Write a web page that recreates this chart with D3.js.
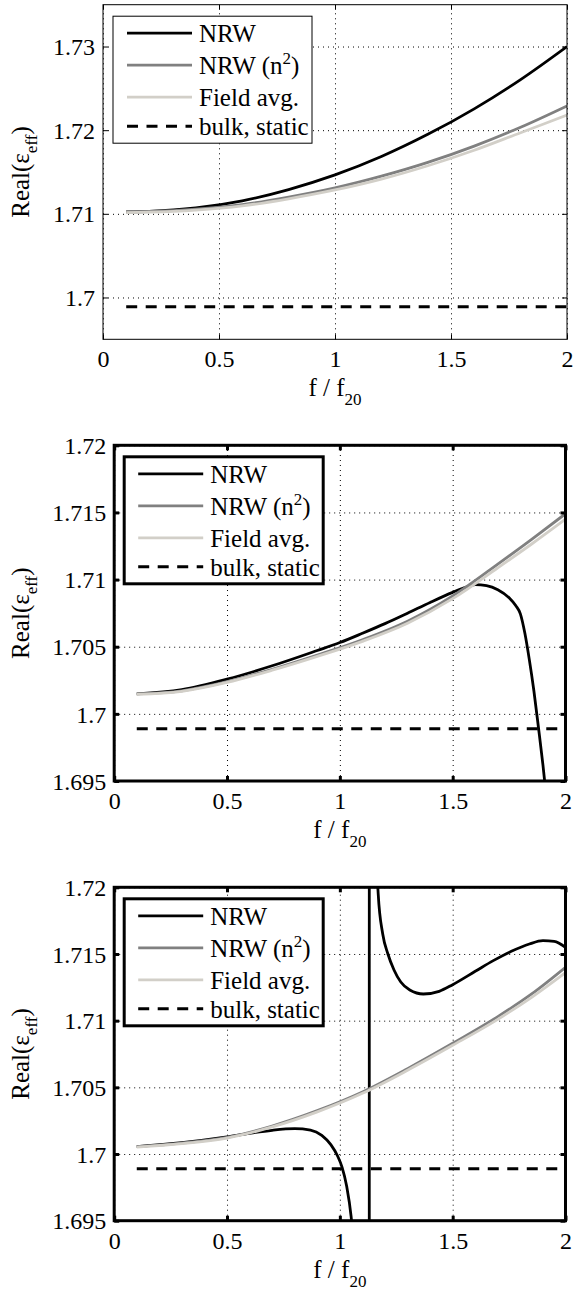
<!DOCTYPE html>
<html>
<head>
<meta charset="utf-8">
<script src="https://cdn.jsdelivr.net/npm/d3@7"></script>
<style>
  body { margin: 0; background: #fff; }
</style>
</head>
<body>
<div id="chart"></div>
<script>
// ---- data ----
const xTicks = [0, 0.5, 1, 1.5, 2];
const xTickLabels = ['0', '0.5', '1', '1.5', '2'];
const yTicksTop = [1.7, 1.71, 1.72, 1.73];
const yTickLabelsTop = ['1.7', '1.71', '1.72', '1.73'];
const yTicksLow = [1.695, 1.7, 1.705, 1.71, 1.715, 1.72];
const yTickLabelsLow = ['1.695', '1.7', '1.705', '1.71', '1.715', '1.72'];
const seriesNames = ['NRW', 'NRW (n2)', 'Field avg.', 'bulk, static'];

const bulkStatic = 1.6989;
const bulkRange = [0.1, 2.0];

// panel 1
const p1F     = [0.1, 0.2, 0.4, 0.6, 0.8, 1.0, 1.2, 1.4, 1.6, 1.8, 2.0];
const p1Nrw   = [1.71024, 1.71030, 1.71070, 1.71155, 1.71290, 1.71465, 1.71685, 1.71950, 1.72255, 1.72605, 1.73000];
const p1NrwN2 = [1.71024, 1.71028, 1.71055, 1.71110, 1.71200, 1.71310, 1.71450, 1.71615, 1.71810, 1.72035, 1.72290];
const p1Field = [1.71015, 1.71020, 1.71045, 1.71095, 1.71180, 1.71285, 1.71415, 1.71575, 1.71760, 1.71970, 1.72180];

// panel 2
const p2NrwF  = [0.1, 0.3, 0.5, 0.7, 0.9, 1.0, 1.1, 1.2, 1.3, 1.4, 1.5, 1.55, 1.6, 1.65, 1.7, 1.75, 1.78, 1.8, 1.82, 1.84, 1.86, 1.88, 1.9, 1.92, 1.95];
const p2Nrw   = [1.70149, 1.70180, 1.70258, 1.70358, 1.70472, 1.70531, 1.70600, 1.70672, 1.70750, 1.70830, 1.70905, 1.70938, 1.70962, 1.70955, 1.70925, 1.70865, 1.70805, 1.70745, 1.70600, 1.70400, 1.70170, 1.69900, 1.69620, 1.69300, 1.68800];
const p2F     = [0.1, 0.3, 0.5, 0.7, 0.9, 1.1, 1.3, 1.5, 1.7, 1.85, 2.0];
const p2NrwN2 = [1.70149, 1.70172, 1.70240, 1.70332, 1.70438, 1.70552, 1.70690, 1.70878, 1.71115, 1.71300, 1.71490];
const p2Field = [1.70146, 1.70168, 1.70234, 1.70325, 1.70428, 1.70540, 1.70675, 1.70858, 1.71088, 1.71265, 1.71450];

// panel 3
const p3NrwF  = [0.1, 0.3, 0.5, 0.6, 0.7, 0.8, 0.87, 0.92, 0.96, 0.99, 1.01, 1.03, 1.05, 1.07, 1.09, 1.11, 1.125, 1.13,
                 1.131, 1.14, 1.15, 1.16, 1.17, 1.19, 1.213, 1.24, 1.27, 1.31, 1.37, 1.44, 1.5, 1.6, 1.68, 1.76, 1.84, 1.9, 1.95, 2.0];
const p3Nrw   = [1.70055, 1.70085, 1.70128, 1.70155, 1.70178, 1.70190, 1.70180, 1.70140, 1.70070, 1.69985, 1.69900, 1.69760, 1.69530, 1.69100, 1.68300, 1.66500, 1.60000, 1.50000,
                 1.95000, 1.76000, 1.73500, 1.72350, 1.71950, 1.71650, 1.71500, 1.71380, 1.71290, 1.71230, 1.71200, 1.71220, 1.71270, 1.71370, 1.71450, 1.71520, 1.71575, 1.71600, 1.71595, 1.71550];
const p3F     = [0.1, 0.3, 0.5, 0.7, 0.9, 1.1, 1.3, 1.5, 1.7, 1.85, 2.0];
const p3NrwN2 = [1.70055, 1.70082, 1.70125, 1.70210, 1.70325, 1.70465, 1.70640, 1.70830, 1.71030, 1.71200, 1.71400];
const p3Field = [1.70052, 1.70078, 1.70120, 1.70203, 1.70316, 1.70455, 1.70628, 1.70815, 1.71010, 1.71175, 1.71360];

// ---- layout ----
const W = 574, H = 1291;
const FONT = "'Liberation Serif', 'Times New Roman', Times, serif";
const colors = ['#000000', '#808080', '#d2cfc8', '#000000'];

const panels = [
  { left: 103, right: 567, top: 4.7, bottom: 339.3, yDomain: [1.695, 1.735], yTicks: yTicksTop, yLabels: yTickLabelsTop, frameW: 1,
    lines: [[p1F, p1Nrw], [p1F, p1NrwN2], [p1F, p1Field]] },
  { left: 114.2, right: 565.5, top: 445.3, bottom: 781, yDomain: [1.695, 1.72], yTicks: yTicksLow, yLabels: yTickLabelsLow, frameW: 3,
    lines: [[p2NrwF, p2Nrw], [p2F, p2NrwN2], [p2F, p2Field]] },
  { left: 114.2, right: 565.5, top: 887.3, bottom: 1220.7, yDomain: [1.695, 1.72], yTicks: yTicksLow, yLabels: yTickLabelsLow, frameW: 3,
    lines: [[p3NrwF, p3Nrw], [p3F, p3NrwN2], [p3F, p3Field]] }
];

const svg = d3.select('#chart').append('svg')
  .attr('width', W).attr('height', H);

panels.forEach((p, pi) => {
  const x = d3.scaleLinear().domain([0, 2]).range([p.left, p.right]);
  const y = d3.scaleLinear().domain(p.yDomain).range([p.bottom, p.top]);
  const w = p.right - p.left, h = p.bottom - p.top;
  const g = svg.append('g');

  const clipId = 'clip' + pi;
  svg.append('clipPath').attr('id', clipId)
    .append('rect').attr('x', p.left).attr('y', p.top).attr('width', w).attr('height', h);

  // dotted grid
  g.append('g').attr('transform', `translate(0,${p.bottom})`)
    .call(d3.axisBottom(x).tickValues(xTicks).tickSize(-h).tickFormat(''))
    .call(a => a.select('.domain').remove())
    .selectAll('line').attr('stroke', '#000').attr('stroke-width', 1).attr('stroke-dasharray', '1,4');
  g.append('g').attr('transform', `translate(${p.left},0)`)
    .call(d3.axisLeft(y).tickValues(p.yTicks).tickSize(-w).tickFormat(''))
    .call(a => a.select('.domain').remove())
    .selectAll('line').attr('stroke', '#000').attr('stroke-width', 1).attr('stroke-dasharray', '1,4');

  // curves
  const line = d3.line().x(d => x(d[0])).y(d => y(d[1])).curve(d3.curveMonotoneX);
  const curves = g.append('g').attr('clip-path', `url(#${clipId})`);
  p.lines.forEach((s, i) => {
    const pts = s[0].map((f, k) => [f, s[1][k]]);
    curves.append('path').datum(pts)
      .attr('d', line).attr('fill', 'none')
      .attr('stroke', colors[i]).attr('stroke-width', 2.8)
      .attr('stroke-linejoin', 'round');
  });
  curves.append('path').datum(bulkRange.map(f => [f, bulkStatic]))
    .attr('d', d3.line().x(d => x(d[0])).y(d => y(d[1])))
    .attr('stroke', colors[3]).attr('stroke-width', 3).attr('stroke-dasharray', '11,8.5');

  // axes with inward ticks
  const bottomAx = g.append('g').attr('transform', `translate(0,${p.bottom})`)
    .call(d3.axisBottom(x).tickValues(xTicks).tickFormat((d, i) => xTickLabels[i]).tickSizeInner(-5).tickSizeOuter(0));
  bottomAx.selectAll('text').attr('y', 28).attr('dy', null).style('font-size', '24px');
  const leftAx = g.append('g').attr('transform', `translate(${p.left},0)`)
    .call(d3.axisLeft(y).tickValues(p.yTicks).tickFormat((d, i) => p.yLabels[i]).tickSizeInner(-5).tickSizeOuter(0));
  leftAx.selectAll('text').attr('x', -8).attr('dy', '0.34em').style('font-size', '24px');
  g.append('g').attr('transform', `translate(0,${p.top})`)
    .call(d3.axisTop(x).tickValues(xTicks).tickFormat('').tickSizeInner(-5).tickSizeOuter(0));
  g.append('g').attr('transform', `translate(${p.right},0)`)
    .call(d3.axisRight(y).tickValues(p.yTicks).tickFormat('').tickSizeInner(-5).tickSizeOuter(0));
  g.selectAll('.domain').remove();
  g.selectAll('.tick line').filter(function () { return !this.getAttribute('stroke-dasharray'); })
    .attr('stroke', '#000').attr('stroke-width', p.frameW);

  // frame
  g.append('rect').attr('x', p.left).attr('y', p.top).attr('width', w).attr('height', h)
    .attr('fill', 'none').attr('stroke', '#000').attr('stroke-width', p.frameW);

  // axis titles
  const xl = g.append('text').attr('x', (p.left + p.right) / 2).attr('y', p.bottom + 57)
    .attr('text-anchor', 'middle').style('font-size', '25px');
  xl.append('tspan').text('f / f');
  xl.append('tspan').attr('dy', 9).style('font-size', '17px').text('20');

  const yl = g.append('text')
    .attr('transform', `translate(29,${(p.top + p.bottom) / 2}) rotate(-90)`)
    .attr('text-anchor', 'middle').style('font-size', '25px');
  yl.append('tspan').text('Real(\u03b5');
  yl.append('tspan').attr('dy', 8).style('font-size', '17px').text('eff');
  yl.append('tspan').attr('dy', -8).text(')');

  // legend
  const lx = p.left + 10, ly = p.top + 11.5;
  const lg = g.append('g');
  lg.append('rect').attr('x', lx).attr('y', ly).attr('width', 199).attr('height', 127)
    .attr('fill', '#fff').attr('stroke', '#000').attr('stroke-width', p.frameW);
  const rowY = [17, 49, 81, 110];
  seriesNames.forEach((name, i) => {
    const yy = ly + rowY[i];
    lg.append('line').attr('x1', lx + 14).attr('x2', lx + 79).attr('y1', yy).attr('y2', yy)
      .attr('stroke', colors[i]).attr('stroke-width', i === 3 ? 3 : 2.8)
      .attr('stroke-dasharray', i === 3 ? '11,8.5' : null);
    const t = lg.append('text').attr('x', lx + 86).attr('y', yy + 9).style('font-size', '25px');
    if (name === 'NRW (n2)') {
      t.append('tspan').text('NRW (n');
      t.append('tspan').attr('dy', -10).style('font-size', '17px').text('2');
      t.append('tspan').attr('dy', 10).text(')');
    } else {
      t.text(name);
    }
  });
});

// one serif face for every label
svg.selectAll('text').style('font-family', FONT).attr('fill', '#000');
</script>
</body>
</html>
